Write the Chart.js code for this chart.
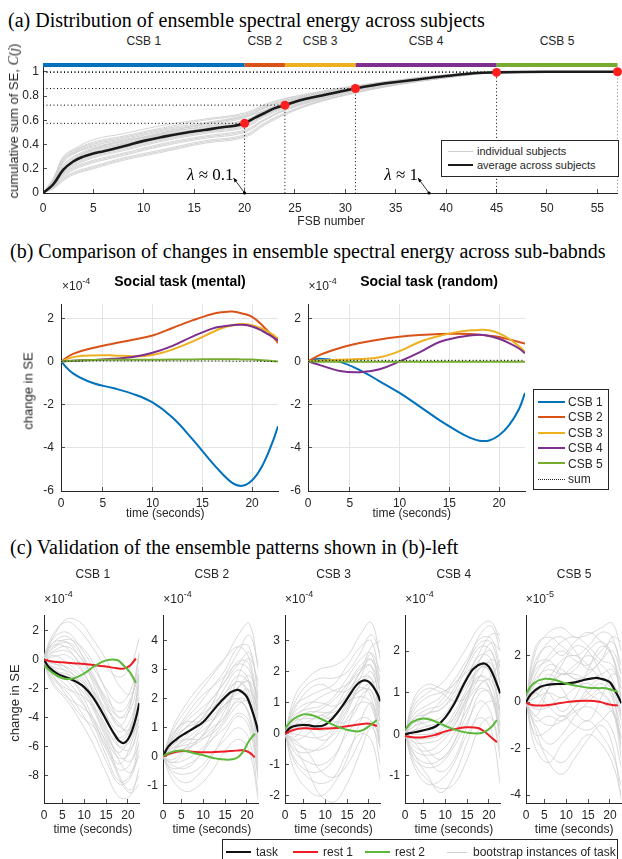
<!DOCTYPE html>
<html>
<head>
<meta charset="utf-8">
<script src="https://cdn.jsdelivr.net/npm/chart.js@4.4.0/dist/chart.umd.min.js"></script>
<style>
  body { margin: 0; background: #fff; width: 622px; height: 859px; overflow: hidden; position: relative;
         font-family: "Liberation Sans", Arial, sans-serif; color: #262626; }
  .abs { position: absolute; white-space: nowrap; line-height: 1; }
  .ptitle { font-family: "Liberation Serif", "Times New Roman", serif; font-size: 20px; color: #000; }
  .lbl { font-size: 12px; color: #262626; }
  .ylab { font-size: 13px; color: #262626; }
  .sm { font-size: 11px; color: #262626; }
  .bold { font-size: 14px; font-weight: bold; color: #000; }
  .lam { font-family: "Liberation Serif", serif; font-size: 17px; color: #000; }
  .box { position: absolute; border: 1px solid #262626; background: #fff; box-sizing: border-box; }
  .sw { position: absolute; height: 0; }
  sup { font-size: 9px; vertical-align: 6px; }
  canvas { position: absolute; }
</style>
</head>
<body>
<script>
// ---------- (a) cumulative spectral energy ----------
const fsbAvgX = [0,1,2,3,4,5,6,8,10,12,14,16,18,19,20,21,22,23,24,26,28,31,34,37,40,43,45,50,57];
const fsbAvg  = [0,0.07,0.19,0.26,0.3,0.325,0.345,0.385,0.43,0.465,0.495,0.52,0.545,0.555,0.575,0.62,0.66,0.7,0.725,0.775,0.81,0.862,0.905,0.935,0.965,0.99,0.995,1.0,1.0];
const fsbSubjX = [0,1,2,3,5,8,12,16,20,22,24,27,31,35,40,45,57];
const subjectCurves = [
  [0,0.11,0.3,0.36,0.44,0.49,0.56,0.61,0.66,0.73,0.78,0.83,0.885,0.93,0.975,0.997,1],
  [0,0.1,0.27,0.34,0.41,0.46,0.53,0.58,0.64,0.71,0.765,0.82,0.88,0.925,0.972,0.996,1],
  [0,0.09,0.25,0.32,0.39,0.44,0.51,0.56,0.62,0.7,0.755,0.815,0.875,0.925,0.97,0.996,1],
  [0,0.085,0.23,0.3,0.37,0.42,0.495,0.55,0.6,0.685,0.745,0.81,0.87,0.92,0.968,0.995,1],
  [0,0.08,0.21,0.28,0.35,0.405,0.48,0.535,0.59,0.675,0.74,0.8,0.865,0.918,0.966,0.995,1],
  [0,0.065,0.17,0.24,0.31,0.37,0.45,0.505,0.56,0.645,0.715,0.785,0.855,0.91,0.962,0.994,1],
  [0,0.06,0.16,0.22,0.29,0.35,0.43,0.49,0.54,0.63,0.7,0.775,0.85,0.905,0.96,0.994,1],
  [0,0.05,0.15,0.21,0.27,0.33,0.41,0.47,0.52,0.61,0.69,0.77,0.845,0.9,0.958,0.993,1],
  [0,0.045,0.13,0.19,0.25,0.31,0.39,0.45,0.5,0.6,0.68,0.76,0.84,0.898,0.955,0.993,1],
  [0,0.04,0.12,0.17,0.22,0.29,0.36,0.43,0.48,0.58,0.66,0.75,0.83,0.893,0.952,0.992,1],
  [0,0.035,0.1,0.15,0.2,0.27,0.34,0.41,0.46,0.56,0.645,0.74,0.825,0.89,0.95,0.992,1],
  [0,0.1,0.28,0.33,0.38,0.43,0.5,0.57,0.63,0.68,0.74,0.8,0.87,0.92,0.97,0.996,1],
  [0,0.06,0.18,0.27,0.36,0.43,0.48,0.53,0.58,0.67,0.73,0.79,0.86,0.912,0.963,0.995,1],
  [0,0.12,0.29,0.35,0.42,0.47,0.54,0.6,0.65,0.72,0.775,0.825,0.882,0.928,0.974,0.997,1],
  [0,0.095,0.26,0.33,0.4,0.45,0.52,0.57,0.63,0.705,0.76,0.818,0.878,0.924,0.971,0.996,1],
  [0,0.08,0.22,0.29,0.36,0.41,0.49,0.545,0.6,0.68,0.742,0.805,0.868,0.919,0.967,0.995,1],
  [0,0.07,0.2,0.27,0.34,0.4,0.47,0.525,0.58,0.665,0.73,0.798,0.863,0.916,0.965,0.995,1],
  [0,0.07,0.18,0.25,0.32,0.38,0.46,0.515,0.57,0.655,0.72,0.79,0.858,0.912,0.963,0.994,1],
  [0,0.06,0.165,0.23,0.3,0.36,0.44,0.5,0.55,0.64,0.708,0.78,0.852,0.907,0.961,0.994,1],
  [0,0.05,0.14,0.2,0.26,0.32,0.4,0.46,0.51,0.605,0.685,0.765,0.842,0.899,0.956,0.993,1],
  [0,0.04,0.11,0.16,0.21,0.28,0.35,0.42,0.47,0.57,0.655,0.745,0.828,0.891,0.951,0.992,1]
];
const csbNames = ['CSB 1','CSB 2','CSB 3','CSB 4','CSB 5'];
const csbEdges = [0,20,24,31,45,57];
const cutFSB = [20,24,31,45,57];
const cutC   = [0.575,0.725,0.862,0.995,1.0];
const lambdaFSB  = [20,38.3];
const lambdaText = ['0.1','1'];
const xTicksA = [0,5,10,15,20,25,30,35,40,45,50,55];
const yTicksA = [0,0.2,0.4,0.6,0.8,1];

// ---------- (b) change in SE, x 1e-4 ----------
const tB = [0.8,2,4,6,8,10,12,14,16,17,18,19,20,21,22,22.6];
const mental1 = [0,-0.55,-1.0,-1.23,-1.5,-1.9,-2.6,-3.6,-4.7,-5.2,-5.62,-5.76,-5.5,-4.85,-3.8,-3.0];
const mental2 = [0,0.35,0.62,0.82,1.0,1.2,1.55,1.9,2.2,2.28,2.31,2.22,2.06,1.68,1.2,0.85];
const mental3 = [0,0.2,0.28,0.28,0.24,0.3,0.55,0.92,1.35,1.55,1.68,1.73,1.68,1.52,1.27,1.05];
const mental4 = [0,0.03,0.07,0.12,0.2,0.4,0.72,1.15,1.52,1.62,1.68,1.7,1.62,1.42,1.15,0.98];
const mental5 = [0,0.035,0.065,0.075,0.078,0.08,0.085,0.095,0.102,0.104,0.1,0.095,0.085,0.055,0.02,-0.005];
const mentalSum = [0,0.01,0.02,0.02,0.02,0.02,0.02,0.02,0.02,0.02,0.01,0.01,0.01,0,0,0];
const random1 = [0,0.12,-0.02,-0.4,-0.92,-1.46,-2.08,-2.72,-3.28,-3.52,-3.67,-3.66,-3.42,-2.95,-2.2,-1.46];
const random2 = [0,0.3,0.62,0.85,1.02,1.14,1.22,1.27,1.28,1.27,1.24,1.19,1.13,1.02,0.9,0.82];
const random3 = [0,0.04,0.08,0.11,0.19,0.48,0.9,1.18,1.38,1.43,1.46,1.44,1.3,1.05,0.7,0.44];
const random4 = [0,-0.17,-0.44,-0.5,-0.36,0,0.42,0.9,1.13,1.2,1.24,1.18,1.05,0.85,0.6,0.38];
const random5 = [0,-0.01,-0.01,-0.01,-0.01,-0.01,-0.01,-0.01,-0.01,-0.01,-0.01,-0.01,-0.01,-0.01,-0.01,-0.01];
const randomSum = [0,0.04,0.05,0.05,0.05,0.05,0.05,0.05,0.05,0.05,0.05,0.05,0.05,0.05,0.05,0.05];
const tTicks = [0.8,5,10,15,20];
const tTickLabels = ['0','5','10','15','20'];
const yTicksB = [-6,-4,-2,0,2];

// ---------- (c) validation ----------
const tRest = [0.8,2.5,5,7.5,10,12.5,15,17.5,19,20.5,21.8];
const rest1ByCSB = [
  [0,-0.12,-0.18,-0.25,-0.3,-0.38,-0.48,-0.6,-0.62,-0.4,0.08],
  [0,0.12,0.2,0.17,0.15,0.16,0.18,0.21,0.22,0.15,-0.02],
  [0,0.12,0.18,0.16,0.17,0.19,0.25,0.3,0.33,0.32,0.25],
  [-0.04,-0.07,-0.07,-0.02,0.07,0.13,0.17,0.15,0.06,-0.07,-0.19],
  [-0.04,-0.13,-0.14,-0.08,0,0.05,0.06,0.02,-0.06,-0.12,-0.14]
];
const rest2ByCSB = [
  [-0.37,-0.85,-1.28,-1.3,-0.95,-0.42,-0.05,-0.02,-0.4,-0.9,-1.6],
  [0.02,0.15,0.21,0.14,0.05,-0.05,-0.1,-0.06,0.15,0.55,0.8],
  [0.18,0.45,0.63,0.58,0.42,0.25,0.13,0.08,0.15,0.3,0.45],
  [0.11,0.3,0.38,0.32,0.2,0.1,0.04,0.02,0.06,0.17,0.34],
  [0.34,0.8,1.0,0.95,0.8,0.7,0.62,0.6,0.6,0.52,0.45]
];
const tBoot = [0.8,3,6,9,12,15,18,20.5,22.6];
const bootCSB1 = [
  [0.3,1.8,2.6,2.0,0.8,-0.5,-1.2,-0.5,1.5],[0.2,1.5,1.9,0.9,-0.5,-2.0,-3.0,-2.2,0.2],
  [0.1,0.8,1.2,0.5,-1.0,-2.8,-4.0,-3.5,-1.0],[0,0.2,0.3,-0.6,-2.0,-3.8,-5.0,-4.2,-1.8],
  [-0.1,-0.3,-0.5,-1.2,-2.6,-4.6,-6.0,-5.6,-3.2],[0,-0.6,-1.2,-2.0,-3.4,-5.4,-6.8,-6.4,-4.0],
  [-0.2,-1.0,-1.8,-2.8,-4.2,-6.2,-7.6,-7.2,-5.0],[-0.3,-1.4,-2.2,-3.5,-5.0,-7.0,-8.6,-8.2,-6.2],
  [-0.4,-1.8,-2.8,-4.2,-5.8,-7.8,-9.5,-9.4,-7.5],[0.1,0.5,0.6,-0.2,-1.4,-3.2,-4.6,-3.2,0.5],
  [-0.2,-0.8,-1.0,-1.6,-3.0,-5.0,-6.6,-7.0,-5.8],[0.2,1.0,0.8,-0.4,-2.2,-4.2,-5.4,-4.6,-2.2],
  [0,-0.2,-0.9,-2.2,-4.0,-6.0,-7.2,-6.0,-3.6],[0.1,1.2,1.6,0.6,-1.6,-3.8,-6.0,-6.2,-4.5],
  [-0.1,-1.2,-2.5,-3.8,-4.6,-5.6,-8.0,-9.0,-8.0],
  [0.2,1.6,2.8,2.6,1.4,0.0,-1.8,-2.4,-1.0],[0,0.6,0.9,0.2,-1.2,-3.0,-4.6,-4.8,-2.6],
  [-0.1,-0.5,-0.8,-1.4,-2.4,-4.0,-5.6,-4.8,-1.4],[0,-0.1,-0.6,-1.6,-3.2,-5.2,-6.4,-5.0,-1.0],
  [-0.2,-1.2,-2.0,-2.4,-3.2,-4.8,-7.0,-7.8,-6.6],[0.1,0.9,1.4,1.0,-0.2,-2.2,-4.0,-3.0,0.4],
  [-0.3,-1.6,-2.6,-3.2,-4.0,-5.8,-8.2,-9.2,-8.6],[0,0.3,-0.2,-1.0,-2.2,-3.4,-4.4,-5.2,-4.2],
  [0.2,1.2,1.2,0.2,-1.2,-2.6,-3.6,-2.8,-0.6],[-0.1,-0.7,-1.4,-2.6,-4.4,-6.6,-8.4,-8.0,-5.6]
];
const bootCSB2 = [
  [0,0.9,1.6,2.2,2.8,3.4,4.2,4.6,3.0],[0,0.7,1.3,1.8,2.4,3.0,3.8,3.8,2.0],
  [0,0.5,1.0,1.4,2.0,2.6,3.3,3.2,1.2],[0,0.4,0.8,1.2,1.6,2.2,2.8,2.5,0.6],
  [0,0.2,0.5,0.8,1.2,1.7,2.3,2.0,0.2],[0,0.1,0.3,0.5,0.9,1.4,1.9,1.5,-0.2],
  [0,-0.2,-0.1,0.2,0.6,1.0,1.5,1.2,-0.6],[0,-0.5,-0.6,-0.4,0.1,0.6,1.0,0.6,-1.3],
  [0,-0.8,-1.2,-1.0,-0.5,0.2,0.6,0.2,-1.5],[0,0.6,1.2,1.6,2.0,2.6,3.2,3.6,2.4],
  [0,0.3,0.6,1.0,1.6,2.4,3.0,2.6,1.0],[0,-0.1,0.3,0.9,1.4,1.8,2.2,2.3,1.6],
  [0,0.3,0.4,0.6,1.2,2.0,2.6,2.0,0.0],[0,0.8,1.2,1.2,1.3,1.8,2.4,2.8,2.0],
  [0,-0.4,-0.3,0.0,0.6,1.2,1.8,1.9,0.8],
  [0,1.0,1.8,2.4,2.9,3.4,3.8,3.4,1.6],[0,0.6,1.0,1.2,1.8,2.8,3.6,4.2,3.2],
  [0,0.2,0.7,1.2,1.8,2.2,2.6,2.2,0.6],[0,-0.3,-0.4,0.0,0.8,1.6,2.4,2.6,1.4],
  [0,0.4,0.6,0.6,0.8,1.3,2.0,1.8,0.4],[0,-0.6,-0.9,-0.6,0.0,0.8,1.4,1.0,-0.8],
  [0,0.5,1.0,1.4,1.7,2.0,2.4,2.6,2.2],[0,0.1,0.2,0.6,1.2,1.8,2.0,1.4,-0.4],
  [0,0.7,1.4,2.0,2.4,2.8,3.2,3.0,1.8],[0,-0.2,0.2,0.6,1.0,1.4,2.8,3.4,2.6]
];
const bootCSB3 = [
  [0,1.2,1.8,2.1,2.2,2.5,3.2,3.6,2.4],[0,0.9,1.2,1.4,1.6,2.2,2.8,3.0,1.6],
  [0,0.6,0.8,0.9,1.2,1.8,2.4,2.6,1.2],[0,0.4,0.5,0.5,0.8,1.5,2.1,2.2,0.8],
  [0,0.2,0.2,0.2,0.5,1.2,1.8,1.8,0.4],[0,0.0,-0.1,-0.1,0.2,0.9,1.4,1.4,0.0],
  [0,-0.3,-0.5,-0.5,-0.2,0.5,1.0,0.9,-0.5],[0,-0.6,-0.9,-1.0,-0.7,0.0,0.5,0.4,-1.0],
  [0,-0.9,-1.4,-1.6,-1.4,-0.6,0.0,-0.2,-1.5],[0,-0.4,-1.2,-2.0,-2.2,-1.6,-0.6,0.2,-0.4],
  [0,0.7,1.0,1.0,0.9,1.2,1.8,2.6,2.0],[0,0.3,0.6,0.8,1.1,1.6,2.2,2.4,1.4],
  [0,-0.2,0.0,0.4,0.6,1.0,1.2,1.0,-0.2],[0,0.5,0.2,-0.2,0.0,0.7,1.6,2.0,1.0],
  [0,-0.1,0.3,0.6,0.4,0.4,1.0,1.6,1.8],
  [0,1.0,1.6,1.8,1.8,2.0,2.6,3.2,2.6],[0,0.5,0.9,1.2,1.4,1.6,2.0,2.2,1.4],
  [0,0.1,0.4,0.6,0.8,1.3,2.0,2.4,1.8],[0,-0.5,-0.6,-0.4,0.1,0.8,1.6,1.8,0.6],
  [0,0.3,0.3,0.1,0.3,1.0,1.5,1.2,-0.4],[0,-0.8,-1.2,-1.2,-0.8,0.2,1.2,1.4,0.4],
  [0,0.8,1.4,1.6,1.4,1.4,2.0,2.8,3.0],[0,-0.2,-0.6,-1.2,-1.4,-1.0,-0.2,0.4,-0.2],
  [0,0.4,0.7,0.7,0.7,1.0,1.4,1.6,0.8],[0,-1.2,-1.8,-2.0,-1.6,-0.8,0.4,1.0,0.2]
];
const bootCSB4 = [
  [0,0.7,1.0,1.2,1.6,2.1,2.6,2.7,2.2],[0,0.5,0.7,0.9,1.3,1.8,2.3,2.3,1.6],
  [0,0.3,0.5,0.6,1.0,1.6,2.1,2.0,1.2],[0,0.2,0.3,0.4,0.8,1.4,1.9,1.8,0.8],
  [0,0.0,0.0,0.1,0.5,1.1,1.6,1.5,0.5],[0,-0.2,-0.2,-0.1,0.3,0.9,1.4,1.2,0.2],
  [0,-0.4,-0.5,-0.4,0.0,0.6,1.1,0.9,-0.2],[0,-0.6,-0.8,-0.7,-0.3,0.3,0.8,0.5,-0.6],
  [0,-0.8,-1.2,-1.1,-0.7,0.0,0.4,0.1,-1.2],[0,0.9,1.2,1.1,1.0,1.4,2.0,2.4,2.4],
  [0,0.4,0.5,0.8,1.2,1.5,1.8,2.2,2.0],[0,-0.1,-0.4,-0.6,-0.2,0.8,1.8,2.0,1.2],
  [0,0.1,0.4,0.2,0.4,1.0,1.3,1.0,0.0],[0,-0.5,-1.0,-1.4,-1.0,-0.2,0.6,0.8,0.6],
  [0,0.3,0.2,0.0,0.2,0.8,1.2,1.4,1.8],
  [0,0.6,0.9,1.0,1.2,1.7,2.4,2.6,2.0],[0,0.4,0.6,0.7,1.1,1.7,2.2,2.2,1.4],
  [0,0.1,0.2,0.3,0.7,1.2,1.6,1.6,1.0],[0,-0.3,-0.4,-0.2,0.2,0.9,1.6,1.7,0.9],
  [0,-0.1,-0.1,0.0,0.4,1.0,1.4,1.0,0.0],[0,-0.5,-0.7,-0.6,-0.2,0.5,1.2,1.3,0.6],
  [0,0.8,1.1,1.0,0.8,0.9,1.4,1.8,1.6],[0,-0.2,-0.6,-0.9,-0.6,0.2,1.0,1.0,0.2],
  [0,0.2,0.5,0.6,0.9,1.3,1.7,1.4,0.4],[0,-0.7,-1.1,-1.3,-1.2,-0.6,0.2,0.4,-0.4]
];
const bootCSB5 = [
  [0,2.2,3.0,3.2,2.8,2.9,3.2,3.4,2.2],[0,1.8,2.4,2.0,2.6,3.0,2.6,2.0,0.8],
  [0,1.4,1.8,2.2,1.8,1.6,2.2,2.6,1.6],[0,1.0,1.4,1.2,1.6,2.0,1.6,1.0,-0.5],
  [0,0.6,0.8,1.2,1.2,1.0,1.2,1.4,0.6],[0,0.2,0.4,0.2,0.6,0.8,0.4,-0.2,-1.5],
  [0,-0.3,-0.2,0.2,0.0,0.2,0.6,0.4,-0.8],[0,-0.8,-0.6,-0.8,-0.4,-0.2,-0.6,-1.2,-2.8],
  [0,-1.4,-1.2,-0.6,-1.0,-1.2,-0.8,-0.4,-1.6],[0,-2.0,-2.6,-1.8,-1.2,-0.8,-1.4,-2.2,-3.6],
  [0,-1.2,-2.6,-3.1,-2.4,-1.6,-1.0,-1.8,-4.2],[0,1.6,2.6,2.8,2.2,1.4,1.8,2.8,2.6],
  [0,0.8,0.4,-0.4,0.2,1.4,2.4,2.0,0.2],[0,-0.6,0.6,1.6,2.4,2.2,1.2,0.4,-2.0],
  [0,0.4,1.2,0.6,-0.4,-0.8,0.2,1.2,1.0],
  [0,2.4,2.8,2.4,2.0,2.4,3.0,2.8,1.2],[0,1.2,2.0,2.6,2.8,2.4,1.8,1.6,0.6],
  [0,0.8,1.6,1.4,1.0,1.2,1.8,2.2,1.2],[0,-0.2,0.6,1.2,1.0,0.4,0.0,-0.4,-1.8],
  [0,0.4,-0.2,-0.6,-0.2,0.6,1.0,0.6,-0.6],[0,-1.0,-1.8,-1.4,-0.6,0.0,0.4,-0.2,-2.4],
  [0,1.6,1.8,1.2,1.4,2.2,2.6,2.0,0.0],[0,-1.6,-2.2,-2.6,-2.0,-1.4,-1.8,-2.6,-4.0],
  [0,0.2,1.0,1.8,2.0,1.6,1.0,0.8,0.2],[0,-0.6,-1.0,-0.8,-0.2,0.4,0.8,0.2,-1.2]
];
const yTicksC = [[-8,-6,-4,-2,0,2],[-1,0,1,2,3,4],[-2,-1,0,1,2,3],[-1,0,1,2],[-4,-2,0,2]];
const yRangeC = [[-9.9,3.07],[-1.6,4.89],[-2.23,3.83],[-1.65,2.86],[-4.34,3.74]];
const expC = ['-4','-4','-4','-4','-5'];

// ---------- styling ----------
const FONT = '"Liberation Sans", Arial, sans-serif';
const AX = '#262626';
const csbColors = ['#0072BD','#D95319','#EDB120','#7E2F8E','#77AC30'];
const GRAY = '#cfcfcf';
const RED = '#ee1c25';
const GREEN = '#5cb83a';

function pts(xs, ys) { return ys.map((y, i) => ({ x: xs[i], y })); }
function line(xs, ys, color, width, extra) {
  return Object.assign({ data: pts(xs, ys), borderColor: color, borderWidth: width,
    pointRadius: 0, tension: 0.4, fill: false }, extra || {});
}
// inward tick marks: negative tickLength, label padding compensated
function scale(min, max, ticks, labels, size, horiz, tp, grid) {
  return {
    type: 'linear', min, max,
    afterBuildTicks: s => { s.ticks = ticks.map(v => ({ value: v })); },
    afterFit: s => { if (horiz) s.height = size; else s.width = size; },
    ticks: { autoSkip: false, maxRotation: 0, padding: tp + 4, color: AX,
             font: { family: FONT, size: 12 },
             callback: (v, i) => labels ? labels[i] : String(v) },
    grid: { display: true, drawOnChartArea: !!grid, color: '#e4e4e4', lineWidth: 1,
            drawTicks: true, tickLength: -4, tickColor: AX, tickWidth: 0.8 },
    border: { display: true, color: AX, width: 1 }
  };
}
function makeChart(area, pad, datasets, xs, ys, plugins) {
  const cv = document.createElement('canvas');
  const W = Math.round(area.w + pad.l + pad.r), H = Math.round(area.h + pad.t + pad.b);
  cv.width = W; cv.height = H;
  cv.style.left = (area.x - pad.l) + 'px'; cv.style.top = (area.y - pad.t) + 'px';
  cv.style.width = W + 'px'; cv.style.height = H + 'px';
  document.body.appendChild(cv);
  const ch = new Chart(cv, {
    type: 'line', data: { datasets },
    options: { responsive: false, animation: false, devicePixelRatio: 1,
      layout: { padding: { left: 0, top: pad.t, right: pad.r, bottom: 0 } },
      plugins: { legend: { display: false }, tooltip: { enabled: false } },
      scales: { x: xs, y: ys } },
    plugins: plugins || []
  });
  ch.offX = area.x - pad.l; ch.offY = area.y - pad.t;
  return ch;
}
function txt(html, x, y, cls, mode) {
  const d = document.createElement('div');
  d.className = 'abs ' + cls; d.innerHTML = html;
  d.style.left = x + 'px'; d.style.top = y + 'px';
  d.style.transform = mode === 'l' ? 'translate(0,-50%)'
    : mode === 'r' ? 'translate(-100%,-50%)'
    : mode === 'v' ? 'translate(-50%,-50%) rotate(-90deg)' : 'translate(-50%,-50%)';
  document.body.appendChild(d);
}
function box(x, y, w, h) {
  const d = document.createElement('div'); d.className = 'box';
  Object.assign(d.style, { left: x + 'px', top: y + 'px', width: w + 'px', height: h + 'px' });
  document.body.appendChild(d);
}
function swatch(x, y, w, color, width, style) {
  const d = document.createElement('div'); d.className = 'sw';
  Object.assign(d.style, { left: x + 'px', top: (y - width / 2) + 'px', width: w + 'px',
    borderTop: width + 'px ' + (style || 'solid') + ' ' + color });
  document.body.appendChild(d);
}

// ---------- panel (a) ----------
txt('(a) Distribution of ensemble spectral energy across subjects', 8, 20, 'ptitle', 'l');

const lambdaArrows = {
  id: 'lambdaArrows',
  afterDatasetsDraw(chart) {
    const { ctx, scales: { x, y } } = chart;
    ctx.save();
    ctx.strokeStyle = '#000'; ctx.fillStyle = '#000'; ctx.lineWidth = 0.8;
    lambdaFSB.forEach(v => {
      const px = x.getPixelForValue(v), py = y.getPixelForValue(0);
      const tx = px - 11, ty = py - 15;
      ctx.beginPath(); ctx.moveTo(px, py); ctx.lineTo(tx, ty); ctx.stroke();
      const ang = Math.atan2(ty - py, tx - px);
      ctx.beginPath(); ctx.moveTo(tx, ty);
      ctx.lineTo(tx - 4.5 * Math.cos(ang - 0.4), ty - 4.5 * Math.sin(ang - 0.4));
      ctx.lineTo(tx - 4.5 * Math.cos(ang + 0.4), ty - 4.5 * Math.sin(ang + 0.4));
      ctx.closePath(); ctx.fill();
      ctx.beginPath(); ctx.arc(px, py, 1.6, 0, Math.PI * 2); ctx.fill();
    });
    ctx.restore();
  }
};

const dsA = [];
dsA.push({ type: 'scatter', data: pts(cutFSB, cutC), pointRadius: 4.5, pointBackgroundColor: '#ff1f1f',
           pointBorderWidth: 0, showLine: false, clip: false, order: 0 });
csbColors.forEach((c, i) => dsA.push(line([csbEdges[i], csbEdges[i + 1]], [1.056, 1.056], c, 4,
  { tension: 0, clip: false, order: 0, borderCapStyle: 'butt' })));
dsA.push(line(fsbAvgX, fsbAvg, '#1a1a1a', 2.6, { order: 1 }));
cutFSB.forEach((f, i) => dsA.push(line([0, f, f], [cutC[i], cutC[i], 0], '#000', 1,
  { tension: 0, borderDash: [1, 2.5], order: 2 })));
subjectCurves.forEach(s => dsA.push(line(fsbSubjX, s, GRAY, 0.9, { order: 3 })));

const yLabA = yTicksA.map(v => (v === 0 || v === 1) ? String(v) : v.toFixed(1));
const chA = makeChart({ x: 43, y: 50, w: 577, h: 143 }, { l: 43, t: 2, r: 2, b: 30 }, dsA,
  scale(0, 57, xTicksA, null, 30, true, 8, false),
  scale(0, 1.071, yTicksA, yLabA, 43, false, 4, false), [lambdaArrows]);

csbNames.forEach((n, i) => txt(n, chA.offX + chA.scales.x.getPixelForValue((csbEdges[i] + csbEdges[i + 1]) / 2), 41, 'lbl'));
lambdaFSB.forEach((v, i) => txt('<i>λ</i> ≈ ' + lambdaText[i],
  chA.offX + chA.scales.x.getPixelForValue(v) - 11, 174, 'lam', 'r'));
txt('cumulative sum of SE, <i style="font-family:\'Liberation Serif\',serif;font-size:14px">C</i>(<i style="font-family:\'Liberation Serif\',serif;font-size:14px">j</i>)', 14, 121, 'ylab', 'v');
txt('FSB number', 331, 221, 'lbl');
box(441, 140, 178, 37);
swatch(448, 151, 25, GRAY, 1); txt('individual subjects', 477, 151, 'sm', 'l');
swatch(448, 165, 25, '#1a1a1a', 2.5); txt('average across subjects', 477, 165, 'sm', 'l');

// ---------- panel (b) ----------
txt('(b) Comparison of changes in ensemble spectral energy across sub-babnds', 10, 251, 'ptitle', 'l');
const bPad = { l: 32, t: 5, r: 4, b: 30 };
function bPanel(area, series, sum, title, titleX) {
  const ds = series.map((s, i) => line(tB, s, csbColors[i], 2, { order: 5 - i }));
  ds.push(line(tB, sum, '#111', 1.1, { borderDash: [1, 2.5], order: 0 }));
  makeChart(area, bPad, ds,
    scale(0.8, 22.6, tTicks, tTickLabels, bPad.b, true, 5, true),
    scale(-6, 2.65, yTicksB, null, bPad.l, false, 7, true));
  txt(title, titleX, 281, 'bold');
  txt('×10<sup>-4</sup>', area.x + 1, 284, 'lbl', 'l');
  txt('time (seconds)', area.x + area.w / 2 - 4, 513, 'lbl');
}
bPanel({ x: 61, y: 291, w: 216.5, h: 200 }, [mental1, mental2, mental3, mental4, mental5], mentalSum,
  'Social task (mental)', 180);
bPanel({ x: 307.5, y: 291, w: 216.5, h: 200 }, [random1, random2, random3, random4, random5], randomSum,
  'Social task (random)', 429);
txt('change in SE', 28, 391, 'ylab', 'v');
box(533, 389, 76, 101);
csbNames.forEach((n, i) => {
  const y = 402 + i * 15.4;
  swatch(538, y, 27, csbColors[i], 2.5); txt(n, 568, y, 'lbl', 'l');
});
swatch(538, 479, 27, '#222', 1, 'dotted'); txt('sum', 568, 479, 'lbl', 'l');

// ---------- panel (c) ----------
txt('(c) Validation of the ensemble patterns shown in (b)-left', 10, 547, 'ptitle', 'l');
const cLefts = [44.3, 163.3, 285, 405.3, 525.7];
const taskByCSB = [mental1, mental2, mental3, mental4, mental5.map(v => v * 10)]; // CSB 5 shown in 1e-5
const bootByCSB = [bootCSB1, bootCSB2, bootCSB3, bootCSB4, bootCSB5];
cLefts.forEach((lx, k) => {
  const area = { x: lx, y: 602.7, w: 97, h: 200 };
  const pad = { l: k === 0 ? 44 : 24, t: 4, r: 3, b: 20 };
  const ds = [];
  ds.push(line(tRest, rest2ByCSB[k], GREEN, 2, { order: 0 }));
  ds.push(line(tRest, rest1ByCSB[k], RED, 2, { order: 1 }));
  ds.push(line(tB, taskByCSB[k], '#111', 2.2, { order: 2 }));
  bootByCSB[k].forEach(b => ds.push(line(tBoot, b, GRAY, 0.8, { order: 5 })));
  makeChart(area, pad, ds,
    scale(0.8, 22.6, tTicks, tTickLabels, pad.b, true, 5, false),
    scale(yRangeC[k][0], yRangeC[k][1], yTicksC[k], null, pad.l, false, 5, false));
  txt(csbNames[k], lx + 48.5, 574, 'lbl');
  txt('×10<sup>' + expC[k] + '</sup>', lx, 597, 'lbl', 'l');
  txt('time (seconds)', lx + 48.5, 829, 'lbl');
});
txt('change in SE', 14, 703, 'ylab', 'v');
box(221.5, 839, 396, 28);
swatch(226, 852, 25, '#111', 2.5); txt('task', 256, 852, 'lbl', 'l');
swatch(293, 852, 25, RED, 2.5); txt('rest 1', 323, 852, 'lbl', 'l');
swatch(365, 852, 25, GREEN, 2.5); txt('rest 2', 395, 852, 'lbl', 'l');
swatch(447, 852, 20, GRAY, 1); txt('bootstrap instances of task', 473, 852, 'lbl', 'l');
</script>
</body>
</html>
